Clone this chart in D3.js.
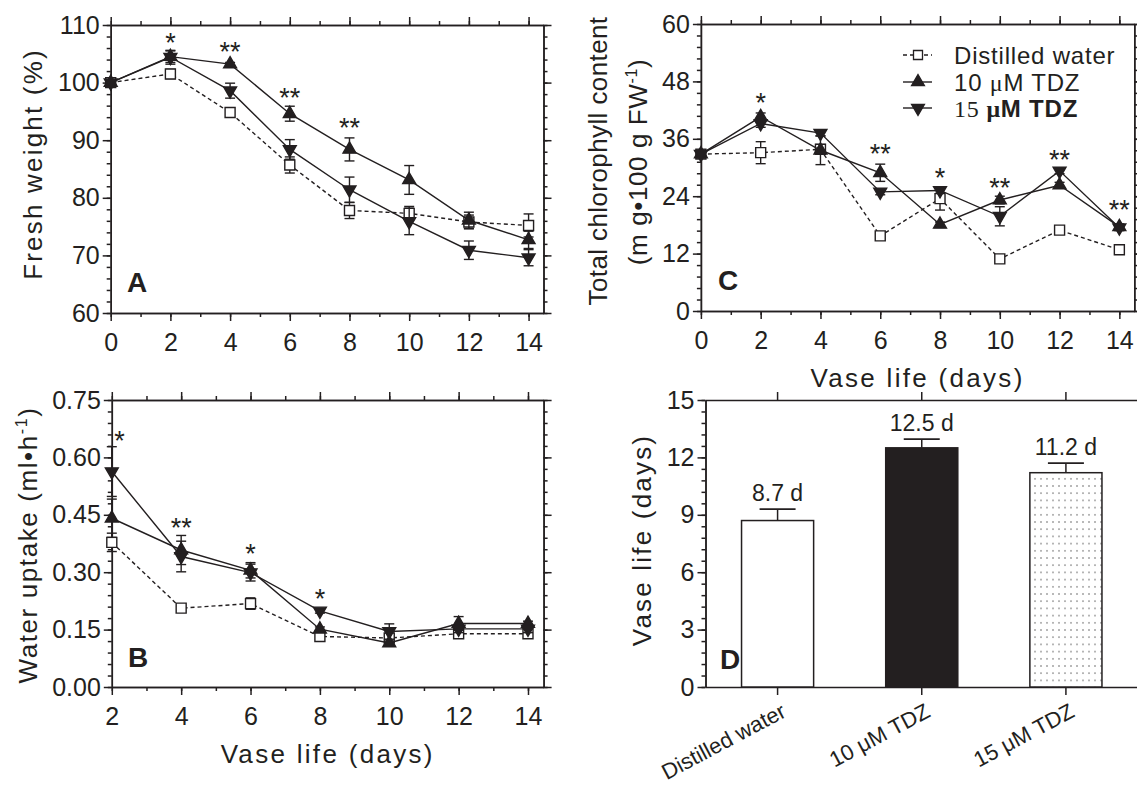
<!DOCTYPE html>
<html>
<head>
<meta charset="utf-8">
<script src="https://cdn.jsdelivr.net/npm/d3@7"></script>
<style>
  body { margin: 0; background: #fff; }
  svg { display: block; font-family: "Liberation Sans", Arial, sans-serif; }
</style>
</head>
<body>
<div id="viz"></div>
<script>
const width = 1137;
const height = 791;
const ink = '#231f20';

// ---- data ----
const days = [0, 2, 4, 6, 8, 10, 12, 14];
const uptakeDays = [2, 4, 6, 8, 10, 12, 14];
const treatments = ['Distilled water', '10 μM TDZ', '15 μM TDZ'];

// A: fresh weight (%)
const freshWater = [100, 101.5, 94.8, 85.7, 77.8, 77.3, 75.8, 75.2];
const freshWaterErr = [0.3, 0.8, 0.8, 1.4, 1.4, 1.2, 1.2, 2.0];
const fresh10 = [100, 104.5, 103.2, 94.6, 88.4, 83.1, 76.1, 72.7];
const fresh10Err = [0.3, 1.0, 0.3, 1.3, 2.0, 2.5, 1.4, 1.5];
const fresh15 = [100, 104.4, 98.6, 88.4, 81.4, 75.9, 70.9, 69.6];
const fresh15Err = [0.3, 1.2, 1.3, 1.7, 2.2, 2.3, 1.6, 1.4];

// B: water uptake (ml/h)
const uptakeWater = [0.378, 0.206, 0.218, 0.132, 0.128, 0.139, 0.139];
const uptakeWaterErr = [0.024, 0.006, 0.015, 0.008, 0.02, 0.008, 0.008];
const uptake10 = [0.441, 0.358, 0.305, 0.151, 0.115, 0.166, 0.166];
const uptake10Err = [0.05, 0.038, 0.02, 0.006, 0.008, 0.018, 0.006];
const uptake15 = [0.563, 0.341, 0.299, 0.199, 0.145, 0.152, 0.152];
const uptake15Err = [0.065, 0.04, 0.022, 0.006, 0.02, 0.01, 0.01];

// C: total chlorophyll
const chloroWater = [32.8, 33.1, 33.8, 15.7, 23.5, 10.9, 16.9, 12.8];
const chloroWaterErr = [0.8, 2.3, 1.0, 0.6, 2.4, 0.6, 0.6, 0.6];
const chloro10 = [32.8, 40.6, 33.6, 28.9, 18.1, 23.2, 26.3, 17.6];
const chloro10Err = [0.8, 0.8, 3.0, 1.8, 0.5, 0.8, 0.6, 0.6];
const chloro15 = [32.8, 39.2, 37.2, 24.9, 25.2, 19.8, 29.3, 17.4];
const chloro15Err = [0.8, 0.8, 0.6, 0.6, 0.6, 2.0, 0.6, 0.6];

// D: vase life (days)
const vaseLife = [8.7, 12.5, 11.2];
const vaseLifeErr = [0.6, 0.45, 0.5];

// significance marks (day, height in data units, text)
const starsADays = [2, 4, 6, 8];
const starsAValues = [108, 106.3, 98.4, 93.2];
const starsAText = ['*', '**', '**', '**'];
const starsBDays = [2.22, 4, 6, 8];
const starsBValues = [0.659, 0.432, 0.363, 0.245];
const starsBText = ['*', '**', '*', '*'];
const starsCDays = [2, 6, 8, 10, 12, 14];
const starsCValues = [44.8, 34, 29.1, 27, 32.9, 22.3];
const starsCText = ['*', '**', '*', '**', '**', '**'];

// ---- drawing ----
const svg = d3
  .select('#viz')
  .append('svg')
  .attr('width', width)
  .attr('height', height)
  .attr('viewBox', [0, 0, width, height]);

svg.append('rect').attr('width', width).attr('height', height).attr('fill', '#fff');

const dots = svg
  .append('defs')
  .append('pattern')
  .attr('id', 'dots')
  .attr('patternUnits', 'userSpaceOnUse')
  .attr('width', 6)
  .attr('height', 7.2);
dots.append('rect').attr('width', 6).attr('height', 7.2).attr('fill', '#fff');
dots.append('circle').attr('cx', 3).attr('cy', 3.6).attr('r', 0.7).attr('fill', '#333');

const symbols = {
  square: d3.symbol(d3.symbolSquare, 100)(),
  up: d3.symbol(d3.symbolTriangle, 72)(),
  down: d3.symbol(d3.symbolTriangle, 72)(),
};

const styles = [
  { shape: 'square', dash: '4,3' },
  { shape: 'up', dash: null },
  { shape: 'down', dash: null },
];

function styleAxis(g) {
  g.attr('font-family', null).attr('font-size', null);
  g.select('.domain').attr('stroke', ink).attr('stroke-width', 1.5);
  g.selectAll('.tick line').attr('stroke', ink).attr('stroke-width', 1.5);
  g.selectAll('.tick text').attr('fill', ink).attr('font-size', 25);
}

function frameAxes(g, x, y, xMajor, xMinor, yMajor, yMinor, yFormat) {
  const [xl, xr] = x.range();
  const [yb, yt] = y.range();
  const sides = [
    [d3.axisBottom, x, `translate(0,${yb})`, xMajor, xMinor, d3.format('d')],
    [d3.axisTop, x, `translate(0,${yt})`, xMajor, xMinor, null],
    [d3.axisLeft, y, `translate(${xl},0)`, yMajor, yMinor, yFormat],
    [d3.axisRight, y, `translate(${xr},0)`, yMajor, yMinor, null],
  ];
  sides.forEach(([axis, scale, tr, major, minor, fmt]) => {
    g.append('g')
      .attr('transform', tr)
      .call(axis(scale).tickValues(minor).tickSize(4).tickFormat('').tickSizeOuter(0))
      .call(styleAxis);
    const a = g
      .append('g')
      .attr('transform', tr)
      .call(axis(scale).tickValues(major).tickSize(8).tickPadding(3).tickFormat(fmt || '').tickSizeOuter(0))
      .call(styleAxis);
    if (axis === d3.axisBottom) a.selectAll('.tick text').attr('y', 38).attr('dy', null);
  });
}

function drawSeries(g, x, y, xs, values, errors, style) {
  const pts = xs.map((d, i) => ({ d, v: values[i], e: errors[i] }));
  const line = d3.line().x((q) => x(q.d)).y((q) => y(q.v));
  g.append('path')
    .datum(pts)
    .attr('d', line)
    .attr('fill', 'none')
    .attr('stroke', ink)
    .attr('stroke-width', 1.4)
    .attr('stroke-dasharray', style.dash);

  const eb = g.append('g').attr('stroke', ink).attr('stroke-width', 1.4)
    .selectAll('g').data(pts).join('g');
  eb.append('line')
    .attr('x1', (q) => x(q.d)).attr('x2', (q) => x(q.d))
    .attr('y1', (q) => y(q.v - q.e)).attr('y2', (q) => y(q.v + q.e));
  [1, -1].forEach((sgn) => {
    eb.append('line')
      .attr('x1', (q) => x(q.d) - 5).attr('x2', (q) => x(q.d) + 5)
      .attr('y1', (q) => y(q.v + sgn * q.e)).attr('y2', (q) => y(q.v + sgn * q.e));
  });

  g.append('g')
    .selectAll('path')
    .data(pts)
    .join('path')
    .attr('transform', (q) => `translate(${x(q.d)},${y(q.v)})${style.shape === 'down' ? ' rotate(180)' : ''}`)
    .attr('d', symbols[style.shape])
    .attr('fill', style.shape === 'square' ? '#fff' : ink)
    .attr('stroke', ink)
    .attr('stroke-width', 1.4);
}

function drawStars(g, x, y, ds, vs, ts) {
  g.append('g')
    .selectAll('text')
    .data(ds)
    .join('text')
    .attr('x', (d) => x(d))
    .attr('y', (d, i) => y(vs[i]) + 15)
    .attr('text-anchor', 'middle')
    .attr('font-size', 27)
    .attr('fill', ink)
    .text((d, i) => ts[i]);
}

function panelLetter(txt, px, py) {
  svg.append('text')
    .attr('x', px).attr('y', py)
    .attr('font-size', 28).attr('font-weight', 'bold').attr('fill', ink)
    .text(txt);
}

function yTitle(bx, cy, txt, spacing, sup, tail) {
  const t = svg.append('text')
    .attr('transform', `translate(${bx},${cy}) rotate(-90)`)
    .attr('text-anchor', 'middle')
    .attr('font-size', 26)
    .attr('fill', ink)
    .style('letter-spacing', spacing + 'px')
    .text(txt);
  if (sup) {
    t.append('tspan').attr('font-size', 16).attr('dy', -10).text(sup);
    t.append('tspan').attr('dy', 10).text(tail);
  }
}

function xTitle(cx, by, txt) {
  svg.append('text')
    .attr('x', cx).attr('y', by)
    .attr('text-anchor', 'middle')
    .attr('font-size', 26)
    .attr('fill', ink)
    .style('letter-spacing', '2.3px')
    .text(txt);
}

// Panel A
const xA = d3.scaleLinear().domain([0, 14.5]).range([110.7, 543.5]);
const yA = d3.scaleLinear().domain([60, 110]).range([313, 25]);
const gA = svg.append('g');
frameAxes(gA, xA, yA, days, d3.range(0, 14.5, 1), d3.range(60, 111, 10), d3.range(60, 111, 2), d3.format('d'));
[[freshWater, freshWaterErr], [fresh10, fresh10Err], [fresh15, fresh15Err]].forEach(([v, e], i) =>
  drawSeries(gA, xA, yA, days, v, e, styles[i]));
drawStars(gA, xA, yA, starsADays, starsAValues, starsAText);
panelLetter('A', 127, 292);
yTitle(42, 164, 'Fresh weight (%)', 2.2);

// Panel B
const xB = d3.scaleLinear().domain([2, 14.45]).range([111.8, 543.6]);
const yB = d3.scaleLinear().domain([0, 0.75]).range([687, 400]);
const gB = svg.append('g');
frameAxes(gB, xB, yB, uptakeDays, d3.range(2, 14.5, 1), d3.range(0, 0.76, 0.15), d3.range(0, 0.751, 0.03), d3.format('.2f'));
[[uptakeWater, uptakeWaterErr], [uptake10, uptake10Err], [uptake15, uptake15Err]].forEach(([v, e], i) =>
  drawSeries(gB, xB, yB, uptakeDays, v, e, styles[i]));
drawStars(gB, xB, yB, starsBDays, starsBValues, starsBText);
panelLetter('B', 128, 667);
yTitle(37, 545, 'Water uptake (ml•h', 1.6, '-1', ')');
xTitle(327.7, 763, 'Vase life (days)');

// Panel C
const xC = d3.scaleLinear().domain([0, 14.5]).range([700.9, 1134.3]);
const yC = d3.scaleLinear().domain([0, 60]).range([311, 24]);
const gC = svg.append('g');
frameAxes(gC, xC, yC, days, d3.range(0, 14.5, 1), d3.range(0, 61, 12), d3.range(0, 60.1, 2.4), d3.format('d'));
[[chloroWater, chloroWaterErr], [chloro10, chloro10Err], [chloro15, chloro15Err]].forEach(([v, e], i) =>
  drawSeries(gC, xC, yC, days, v, e, styles[i]));
drawStars(gC, xC, yC, starsCDays, starsCValues, starsCText);
panelLetter('C', 718, 290);
yTitle(607, 161, 'Total chlorophyll content', 0.4);
yTitle(647, 162, '(m g•100 g FW', 0.6, '-1', ')');
xTitle(917.6, 387, 'Vase life (days)');

// legend for C
const legend = svg.append('g').attr('transform', 'translate(903,0)');
const legendRows = [55, 82, 108];
treatments.forEach((name, i) => {
  const row = legend.append('g').attr('transform', `translate(0,${legendRows[i]})`);
  row.append('line').attr('x1', 0).attr('x2', 29).attr('stroke', ink).attr('stroke-width', 1.4)
    .attr('stroke-dasharray', styles[i].dash);
  row.append('path')
    .attr('transform', `translate(15,0)${styles[i].shape === 'down' ? ' rotate(180)' : ''}`)
    .attr('d', styles[i].shape === 'square' ? d3.symbol(d3.symbolSquare, 81)() : symbols[styles[i].shape])
    .attr('fill', styles[i].shape === 'square' ? '#fff' : ink)
    .attr('stroke', ink).attr('stroke-width', 1.3);
  const t = row.append('text').attr('x', 51).attr('y', 8.5).attr('font-size', 24)
    .style('letter-spacing', '0.8px').attr('fill', ink);
  if (i === 0) {
    t.text(name);
  } else if (i === 1) {
    t.append('tspan').text('10 ');
    t.append('tspan').attr('font-family', '"Liberation Serif", serif').text('μ');
    t.append('tspan').text('M TDZ');
  } else {
    t.append('tspan').attr('font-family', '"Liberation Serif", serif').text('15 ');
    t.append('tspan').attr('font-family', '"Liberation Serif", serif').attr('font-weight', 'bold').text('μ');
    t.append('tspan').attr('font-weight', 'bold').text('M TDZ');
  }
});

// Panel D
const xD = d3.scaleBand().domain(treatments).range([705.5, 1138]).paddingInner(0.5).paddingOuter(0.25);
const yD = d3.scaleLinear().domain([0, 15]).range([687, 400]);
const gD = svg.append('g');
gD.append('g').attr('transform', 'translate(705.5,0)')
  .call(d3.axisLeft(yD).tickValues(d3.range(0, 15.01, 0.6)).tickSize(4).tickFormat('').tickSizeOuter(0))
  .call(styleAxis);
gD.append('g').attr('transform', 'translate(705.5,0)')
  .call(d3.axisLeft(yD).tickValues(d3.range(0, 16, 3)).tickSize(8).tickPadding(3).tickFormat(d3.format('d')).tickSizeOuter(0))
  .call(styleAxis);
const axD = gD.append('g').attr('transform', 'translate(0,687)')
  .call(d3.axisBottom(xD).tickSize(8).tickSizeOuter(0))
  .call(styleAxis);
axD.selectAll('.tick text')
  .attr('y', null).attr('dy', null)
  .attr('font-size', 22)
  .attr('text-anchor', 'end')
  .attr('transform', 'translate(10,29) rotate(-28)');
gD.append('g').attr('transform', 'translate(0,400)')
  .call(d3.axisTop(xD).tickSize(8).tickFormat('').tickSizeOuter(0))
  .call(styleAxis);

const barFills = ['#fff', ink, 'url(#dots)'];
const bars = gD.append('g').selectAll('g').data(treatments).join('g');
bars.append('line')
  .attr('x1', (d) => xD(d) + xD.bandwidth() / 2).attr('x2', (d) => xD(d) + xD.bandwidth() / 2)
  .attr('y1', (d, i) => yD(vaseLife[i])).attr('y2', (d, i) => yD(vaseLife[i] + vaseLifeErr[i]))
  .attr('stroke', ink).attr('stroke-width', 1.5);
bars.append('line')
  .attr('x1', (d) => xD(d) + xD.bandwidth() / 2 - 18).attr('x2', (d) => xD(d) + xD.bandwidth() / 2 + 18)
  .attr('y1', (d, i) => yD(vaseLife[i] + vaseLifeErr[i])).attr('y2', (d, i) => yD(vaseLife[i] + vaseLifeErr[i]))
  .attr('stroke', ink).attr('stroke-width', 1.8);
bars.append('rect')
  .attr('x', (d) => xD(d)).attr('width', xD.bandwidth())
  .attr('y', (d, i) => yD(vaseLife[i])).attr('height', (d, i) => yD(0) - yD(vaseLife[i]))
  .attr('fill', (d, i) => barFills[i])
  .attr('stroke', ink).attr('stroke-width', 1.5);
bars.append('text')
  .attr('x', (d) => xD(d) + xD.bandwidth() / 2)
  .attr('y', (d, i) => yD(vaseLife[i] + vaseLifeErr[i]) - 8)
  .attr('text-anchor', 'middle').attr('font-size', 23).attr('fill', ink)
  .text((d, i) => `${vaseLife[i]} d`);
panelLetter('D', 720, 669);
yTitle(651, 540, 'Vase life (days)', 2.2);
</script>
</body>
</html>
